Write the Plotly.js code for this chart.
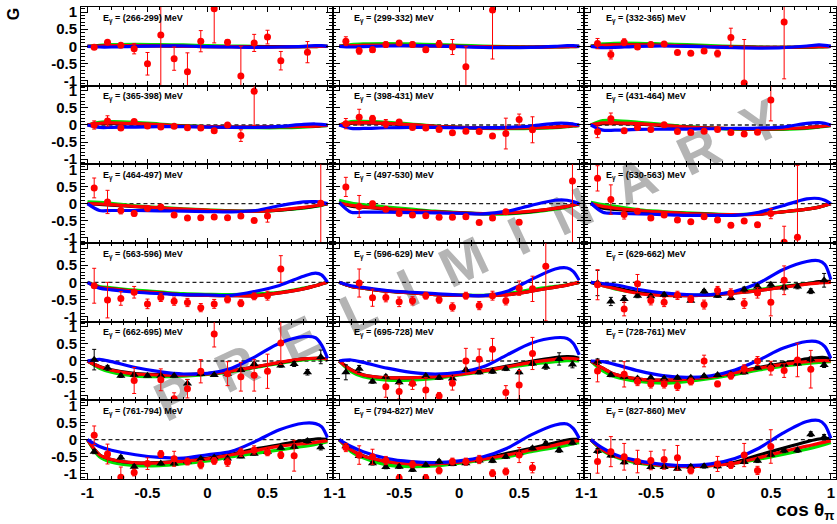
<!DOCTYPE html>
<html><head><meta charset="utf-8">
<script src="https://cdn.plot.ly/plotly-3.0.1.min.js"></script>
<style>html,body{margin:0;padding:0;background:#fff}</style>
</head><body><div id="chart" style="width:837px;height:524px"></div>
<script>
const energyBins = ["266-299","299-332","332-365","365-398","398-431","431-464","464-497","497-530","530-563","563-596","596-629","629-662","662-695","695-728","728-761","761-794","794-827","827-860"];
const cosBins = [-0.944,-0.833,-0.722,-0.611,-0.5,-0.389,-0.278,-0.167,-0.056,0.056,0.167,0.278,0.389,0.5,0.611,0.722,0.833,0.944];
const xTickVals = [-1,-0.5,0,0.5,1];
const xTickText = ["-1","-0.5","0","0.5","1"];
const yTickVals = [-1,-0.5,0,0.5,1];
const yTickText = ["-1","-0.5","0","0.5","1"];
const curveX = [-1,-0.9,-0.8,-0.6,-0.4,-0.2,0,0.2,0.4,0.6,0.8,0.9,0.95,1];

// red circles (measured G) and their errors, one row per energy bin
const redG = [
[-0.03,0.12,0.03,-0.07,-0.51,0.33,-0.36,-0.74,0.15,1.1,0.12,-0.87,0.1,0.27,-0.42,null,-0.17,null],
[0.15,-0.13,-0.1,0.05,0.1,0.05,-0.1,0.07,-0.02,-0.6,null,1.06,null,null,null,null,null,null],
[0.08,-0.24,0.12,-0.02,0.05,0.07,-0.18,-0.2,-0.14,-0.21,0.26,-1.07,null,null,0.71,null,null,null],
[0.0,0.12,-0.09,0.1,-0.03,-0.06,-0.04,-0.08,-0.09,-0.17,0.0,-0.31,0.99,null,null,null,null,null],
[0.04,0.23,0.18,0.04,0.09,-0.07,-0.09,-0.13,-0.23,-0.18,-0.19,-0.32,-0.25,0.16,-0.14,null,null,null],
[-0.2,0.18,-0.17,-0.07,-0.13,0.01,-0.19,-0.22,-0.18,-0.13,-0.22,-0.26,-0.21,0.73,null,null,null,null],
[0.46,0.05,-0.2,-0.29,-0.14,-0.1,-0.33,-0.42,-0.41,-0.39,-0.41,-0.36,-0.49,-0.36,null,null,null,0.01],
[0.49,-0.08,0.0,-0.16,-0.29,-0.33,-0.35,-0.4,-0.4,-0.38,-0.55,-0.42,-0.24,-0.54,null,null,null,0.66],
[0.74,0.12,-0.32,-0.22,-0.42,-0.33,-0.48,-0.53,-0.38,-0.48,-0.63,-0.51,-0.62,-0.29,-1.13,-0.98,null,null],
[-0.1,-0.52,-0.47,-0.29,-0.63,-0.44,-0.55,-0.59,-0.74,-0.63,-0.5,-0.61,-0.41,-0.39,0.39,null,null,null],
[null,-0.02,-0.45,-0.44,-0.57,-0.54,-0.39,-0.51,-0.72,-0.39,-0.68,-0.39,-0.54,-0.17,-0.19,0.47,null,null],
[-0.07,null,-0.78,-0.04,-0.53,-0.58,-0.38,-0.49,-0.65,-0.24,-0.31,-0.62,-0.31,-0.58,0.06,null,null,null],
[null,null,null,-0.57,null,-0.55,-1.1,-0.81,-0.3,0.79,-0.37,-0.46,-0.42,-0.3,0.53,null,null,null],
[null,null,null,-0.75,-0.89,-0.66,-0.85,-1.02,-0.65,0.0,0.05,0.34,-0.92,-0.7,0.22,null,null,null],
[-0.29,null,-0.39,-0.6,-0.67,-0.67,-0.74,-0.6,0.0,-0.67,-0.43,-0.23,0.0,-0.21,-0.28,0.03,-0.24,null],
[0.13,-0.42,-1.1,-0.96,-0.7,-0.42,-0.56,-0.64,-0.73,-0.62,-0.66,-0.37,-0.3,-0.37,-0.45,-0.47,null,null],
[-0.23,-0.45,-0.5,-0.61,-1.12,-0.72,-1.12,-0.9,-0.64,-0.64,-0.58,-0.98,-0.93,-0.45,-0.82,null,null,null],
[-0.64,-0.35,-0.5,-0.64,-0.61,-0.58,-0.53,-0.9,null,-0.71,-0.74,-0.45,-0.9,-0.2,null,null,null,null]
];
const redErr = [
[0.05,0.05,0.04,0.15,0.33,1.5,0.34,0.55,0.31,1.0,0.08,0.87,0.25,0.2,0.27,null,0.31,null],
[0.13,0.1,0.08,0.08,0.07,0.08,0.08,0.1,0.22,0.59,null,1.43,null,null,null,null,null,null],
[0.15,0.13,0.1,0.05,0.07,0.05,0.04,0.04,0.07,0.1,0.27,1.27,null,null,1.66,null,null,null],
[0.12,0.15,0.05,0.05,0.04,0.04,0.04,0.04,0.04,0.04,0.04,0.17,1.0,null,null,null,null,null],
[0.15,0.23,0.1,0.12,0.07,0.06,0.04,0.05,0.04,0.05,0.05,0.04,0.45,0.16,0.38,null,null,null],
[0.17,0.17,0.07,0.05,0.05,0.04,0.05,0.05,0.05,0.05,0.05,0.05,0.05,0.61,null,null,null,null],
[0.29,0.34,0.1,0.07,0.06,0.04,0.04,0.04,0.04,0.04,0.04,0.05,0.06,0.18,null,null,null,1.5],
[0.28,0.32,0.07,0.06,0.04,0.04,0.04,0.04,0.04,0.04,0.04,0.04,0.04,0.07,null,null,null,1.9],
[0.37,0.43,0.13,0.07,0.07,0.06,0.04,0.04,0.06,0.06,0.07,0.07,0.07,0.15,0.47,2.1,null,null],
[0.51,0.52,0.2,0.17,0.14,0.12,0.12,0.12,0.12,0.13,0.1,0.1,0.1,0.13,0.39,null,null,null],
[null,0.41,0.25,0.13,0.14,0.12,0.1,0.1,0.12,0.1,0.12,0.13,0.12,0.21,0.37,1.6,null,null],
[0.44,null,0.2,0.27,0.13,0.13,0.12,0.1,0.13,0.12,0.12,0.14,0.15,0.4,0.42,null,null,null],
[null,null,null,0.38,null,0.32,0.17,0.27,0.34,0.38,0.35,0.42,0.46,0.5,0.63,null,null,null],
[null,null,null,0.31,0.22,0.17,0.37,0.1,0.2,0.37,0.3,0.32,0.2,0.42,0.47,null,null,null],
[0.32,null,0.37,0.12,0.12,0.12,0.12,0.1,0.17,0.08,0.1,0.12,0.13,0.2,0.2,0.49,0.55,null],
[0.27,0.29,0.3,0.1,0.17,0.1,0.22,0.1,0.12,0.1,0.12,0.12,0.12,0.1,0.1,0.45,null,null],
[0.12,0.27,0.22,0.12,0.1,0.1,0.1,0.1,0.1,0.1,0.12,0.1,0.1,0.22,0.15,null,null,null],
[0.34,0.44,0.39,0.33,0.27,0.28,0.36,0.1,null,0.22,0.1,0.34,0.12,0.49,null,null,null,null]
];

// black triangles (second data set), only in the higher energy bins
const blackG = [null,null,null,null,null,null,null,null,null,null,null,
[-0.02,-0.56,-0.49,-0.39,-0.41,-0.36,-0.39,-0.54,-0.26,-0.39,-0.46,-0.21,-0.12,-0.07,-0.15,-0.12,-0.26,0.06],
[0.04,-0.2,-0.43,-0.4,-0.43,-0.43,-0.43,-0.66,-0.38,-0.41,-0.37,-0.26,-0.09,null,-0.13,-0.09,-0.33,0.12],
[-0.33,-0.23,-0.6,-0.46,-0.62,-0.65,-0.44,-0.49,-0.51,-0.26,-0.33,-0.31,-0.23,-0.33,-0.07,-0.17,0.06,-0.1],
[-0.02,-0.41,-0.46,-0.51,-0.49,-0.51,-0.49,-0.49,-0.44,-0.41,-0.39,-0.33,-0.19,-0.12,-0.1,-0.07,0.05,-0.12],
[-0.35,null,-0.52,-0.79,null,-0.7,-0.7,-0.64,-0.56,-0.52,-0.55,-0.49,-0.41,-0.35,-0.24,-0.21,-0.04,-0.22],
[-0.19,-0.48,-0.69,-0.8,-0.79,-0.88,-0.74,-0.64,-0.71,-0.69,-0.61,-0.62,-0.5,-0.4,-0.25,-0.11,-0.31,-0.09],
[-0.33,-0.46,-0.66,-0.67,-0.8,-0.8,-0.85,-0.79,-0.78,-0.78,-0.74,-0.65,-0.62,-0.44,-0.32,-0.31,0.16,0.07]
];
const blackErr = [null,null,null,null,null,null,null,null,null,null,null,
[0.37,0.12,0.1,0.06,0.05,0.05,0.05,0.05,0.05,0.05,0.05,0.07,0.06,0.07,0.07,0.07,0.07,0.2],
[0.3,0.07,0.05,0.05,0.04,0.04,0.04,0.12,0.05,0.04,0.04,0.05,0.05,null,0.05,0.07,0.08,0.2],
[0.22,0.1,0.05,0.05,0.05,0.05,0.05,0.05,0.05,0.05,0.05,0.05,0.05,0.05,0.06,0.07,0.18,0.1],
[0.08,0.05,0.05,0.04,0.04,0.04,0.04,0.04,0.04,0.04,0.04,0.05,0.05,0.05,0.05,0.06,0.07,0.07],
[0.06,null,0.05,0.05,null,0.04,0.04,0.04,0.04,0.04,0.04,0.04,0.04,0.05,0.05,0.05,0.06,0.08],
[0.05,0.05,0.05,0.05,0.05,0.05,0.05,0.05,0.05,0.05,0.05,0.05,0.05,0.05,0.05,0.06,0.06,0.06],
[0.07,0.05,0.05,0.05,0.05,0.05,0.05,0.05,0.05,0.05,0.05,0.05,0.05,0.05,0.06,0.06,0.07,0.08]
];

// model curves sampled at curveX
const curveGreen = [
[0,0.03,0.05,0.06,0.05,0.04,0.02,0.01,0,-0.01,-0.01,-0.01,0,0],
[0,0.05,0.07,0.08,0.07,0.05,0.03,0.01,-0.01,-0.02,-0.02,-0.01,-0.01,0],
[0,0.07,0.09,0.09,0.07,0.05,0.02,0,-0.02,-0.03,-0.03,-0.02,-0.01,0],
[0,0.08,0.1,0.08,0.03,-0.02,-0.05,-0.07,-0.08,-0.08,-0.06,-0.04,-0.03,-0.02],
[0,0.1,0.11,0.08,0.03,-0.03,-0.07,-0.1,-0.11,-0.1,-0.08,-0.05,-0.03,-0.02],
[0,0.13,0.13,0.08,0.02,-0.05,-0.09,-0.12,-0.13,-0.13,-0.1,-0.06,-0.04,-0.02],
[0.05,0.04,0.01,-0.06,-0.11,-0.15,-0.18,-0.21,-0.22,-0.19,-0.13,-0.08,-0.05,0],
[0.1,0.02,-0.03,-0.1,-0.16,-0.22,-0.26,-0.3,-0.3,-0.25,-0.16,-0.1,-0.05,0],
[0.04,-0.03,-0.08,-0.18,-0.23,-0.27,-0.3,-0.32,-0.29,-0.24,-0.16,-0.1,-0.05,0],
[0,-0.12,-0.16,-0.23,-0.28,-0.33,-0.35,-0.36,-0.34,-0.29,-0.17,-0.1,-0.05,0],
[0,-0.12,-0.17,-0.26,-0.31,-0.36,-0.37,-0.38,-0.33,-0.21,-0.12,-0.07,-0.04,0],
[0,-0.1,-0.19,-0.31,-0.36,-0.38,-0.36,-0.29,-0.21,-0.12,-0.04,0,0.02,0.03],
[0,-0.21,-0.33,-0.44,-0.46,-0.44,-0.39,-0.31,-0.19,-0.07,0.03,0.06,0.06,0.05],
[0,-0.31,-0.46,-0.56,-0.56,-0.51,-0.41,-0.31,-0.19,-0.09,-0.02,0.01,0.01,0],
[0,-0.29,-0.46,-0.6,-0.65,-0.6,-0.51,-0.39,-0.26,-0.15,-0.07,-0.04,-0.03,-0.02],
[0,-0.5,-0.66,-0.76,-0.76,-0.7,-0.62,-0.5,-0.4,-0.3,-0.2,-0.14,-0.1,-0.06],
[0,-0.35,-0.53,-0.74,-0.79,-0.77,-0.69,-0.59,-0.5,-0.35,-0.23,-0.16,-0.12,-0.09],
[0,-0.33,-0.5,-0.69,-0.77,-0.79,-0.76,-0.69,-0.57,-0.43,-0.28,-0.19,-0.14,-0.08]
];
const curveBlack = [
[0,0.01,0.02,0.02,0.01,0,-0.01,-0.01,-0.01,-0.01,-0.01,0,0,0],
[0,0.02,0.03,0.03,0.02,0.01,0,-0.01,-0.02,-0.02,-0.01,-0.01,0,0],
[0,0.03,0.04,0.04,0.03,0.01,-0.01,-0.02,-0.03,-0.03,-0.02,-0.01,-0.01,0],
[0,0.04,0.05,0.03,0,-0.03,-0.05,-0.06,-0.06,-0.05,-0.04,-0.03,-0.02,-0.01],
[0,0.05,0.06,0.04,0,-0.04,-0.07,-0.09,-0.09,-0.08,-0.06,-0.04,-0.02,-0.01],
[0,0.04,0.05,0.03,-0.02,-0.06,-0.09,-0.11,-0.12,-0.11,-0.08,-0.05,-0.03,-0.01],
[0,-0.02,-0.04,-0.09,-0.13,-0.17,-0.2,-0.22,-0.22,-0.19,-0.12,-0.07,-0.04,0],
[0.02,-0.07,-0.1,-0.16,-0.2,-0.24,-0.27,-0.29,-0.28,-0.23,-0.14,-0.08,-0.04,0],
[0,-0.13,-0.17,-0.22,-0.26,-0.29,-0.31,-0.32,-0.31,-0.24,-0.16,-0.1,-0.05,0],
[0,-0.15,-0.19,-0.26,-0.31,-0.36,-0.38,-0.39,-0.39,-0.31,-0.19,-0.1,-0.05,0],
[0,-0.12,-0.17,-0.26,-0.31,-0.36,-0.38,-0.39,-0.36,-0.26,-0.14,-0.08,-0.04,0],
[0,-0.07,-0.15,-0.3,-0.37,-0.39,-0.37,-0.31,-0.24,-0.14,-0.04,0.02,0.03,0.03],
[0,-0.16,-0.26,-0.37,-0.4,-0.4,-0.37,-0.29,-0.17,-0.05,0.06,0.08,0.08,0.06],
[0,-0.25,-0.4,-0.49,-0.49,-0.46,-0.38,-0.28,-0.15,-0.01,0.1,0.13,0.12,0.08],
[0,-0.21,-0.39,-0.53,-0.56,-0.53,-0.46,-0.33,-0.19,-0.07,0.06,0.1,0.1,0.06],
[0,-0.44,-0.58,-0.68,-0.67,-0.62,-0.54,-0.42,-0.27,-0.15,-0.03,0.02,0.02,0.01],
[0,-0.3,-0.47,-0.64,-0.7,-0.7,-0.65,-0.55,-0.4,-0.25,-0.09,-0.01,0.01,0.02],
[0,-0.3,-0.47,-0.65,-0.75,-0.78,-0.75,-0.66,-0.45,-0.25,-0.06,0.02,0.03,0.04]
];
const curveRed = [
[0,0.01,0.02,0.02,0.01,0,-0.01,-0.01,-0.02,-0.02,-0.01,-0.01,0,0],
[0,0.02,0.03,0.03,0.02,0.01,0,-0.01,-0.02,-0.02,-0.02,-0.01,-0.01,0],
[0,0.03,0.04,0.04,0.03,0.01,-0.01,-0.02,-0.03,-0.03,-0.02,-0.01,-0.01,0],
[0,0.05,0.06,0.04,0.01,-0.03,-0.05,-0.06,-0.06,-0.05,-0.04,-0.03,-0.02,-0.01],
[0,0.06,0.07,0.05,0.01,-0.04,-0.07,-0.09,-0.09,-0.08,-0.06,-0.04,-0.02,-0.01],
[0,0.06,0.06,0.04,-0.01,-0.06,-0.09,-0.11,-0.12,-0.11,-0.08,-0.05,-0.03,-0.01],
[0,-0.01,-0.03,-0.08,-0.12,-0.16,-0.19,-0.22,-0.22,-0.18,-0.11,-0.06,-0.03,0],
[0.02,-0.05,-0.09,-0.15,-0.2,-0.24,-0.27,-0.29,-0.27,-0.22,-0.14,-0.08,-0.04,0],
[0,-0.08,-0.13,-0.2,-0.25,-0.29,-0.31,-0.32,-0.31,-0.24,-0.16,-0.1,-0.05,0],
[0,-0.15,-0.19,-0.26,-0.31,-0.36,-0.38,-0.39,-0.39,-0.31,-0.19,-0.1,-0.05,0],
[0,-0.12,-0.17,-0.26,-0.31,-0.36,-0.38,-0.39,-0.36,-0.26,-0.14,-0.08,-0.04,0],
[0,-0.1,-0.18,-0.33,-0.38,-0.39,-0.37,-0.31,-0.24,-0.15,-0.05,-0.02,-0.01,0],
[0,-0.17,-0.27,-0.38,-0.41,-0.41,-0.38,-0.29,-0.17,-0.04,0.06,0.08,0.08,0.05],
[0,-0.26,-0.41,-0.49,-0.49,-0.46,-0.39,-0.29,-0.17,-0.04,0.05,0.08,0.07,0.04],
[0,-0.21,-0.39,-0.53,-0.56,-0.53,-0.46,-0.34,-0.21,-0.1,-0.02,0.01,0.01,0],
[0,-0.44,-0.58,-0.68,-0.68,-0.63,-0.56,-0.44,-0.32,-0.19,-0.12,-0.08,-0.05,-0.03],
[0,-0.3,-0.48,-0.64,-0.71,-0.71,-0.66,-0.57,-0.45,-0.3,-0.16,-0.08,-0.05,-0.03],
[0,-0.3,-0.48,-0.66,-0.76,-0.79,-0.76,-0.69,-0.53,-0.35,-0.19,-0.11,-0.07,-0.04]
];
const curveBlue = [
[0,-0.02,-0.02,0,0.01,0.01,-0.01,-0.02,-0.03,-0.02,0,0.02,0.02,0],
[0,-0.02,-0.01,0.01,0.02,0.01,-0.01,-0.03,-0.04,-0.03,0,0.02,0.02,0],
[0,-0.04,-0.03,0,0.01,0,-0.02,-0.04,-0.05,-0.04,0.01,0.04,0.03,0],
[0,-0.07,-0.07,-0.06,-0.05,-0.05,-0.06,-0.07,-0.07,-0.04,0.02,0.03,0.02,0],
[0,-0.1,-0.1,-0.08,-0.07,-0.07,-0.08,-0.08,-0.07,-0.03,0.05,0.05,0.03,0],
[0,-0.15,-0.15,-0.13,-0.12,-0.12,-0.11,-0.1,-0.09,-0.06,0.05,0.07,0.05,0],
[0,-0.2,-0.2,-0.2,-0.21,-0.22,-0.23,-0.24,-0.2,-0.06,0.05,0.06,0.04,0],
[0.04,-0.25,-0.25,-0.25,-0.26,-0.27,-0.28,-0.3,-0.22,-0.05,0.1,0.1,0.06,0],
[0.02,-0.25,-0.28,-0.3,-0.32,-0.34,-0.34,-0.34,-0.25,-0.06,0.14,0.15,0.1,0],
[0,-0.17,-0.22,-0.29,-0.33,-0.36,-0.37,-0.38,-0.26,-0.09,0.18,0.27,0.22,0],
[0,-0.1,-0.15,-0.24,-0.29,-0.33,-0.37,-0.39,-0.26,0.08,0.39,0.42,0.32,0.06],
[0,-0.04,-0.07,-0.21,-0.31,-0.36,-0.36,-0.26,-0.02,0.37,0.61,0.63,0.52,0.08],
[0,0.05,-0.02,-0.19,-0.31,-0.38,-0.36,-0.21,0.13,0.52,0.71,0.68,0.47,0.08],
[0,0.03,-0.04,-0.21,-0.33,-0.38,-0.33,-0.17,0.18,0.52,0.68,0.66,0.52,0.18],
[0,-0.02,-0.1,-0.29,-0.43,-0.48,-0.43,-0.26,0.03,0.37,0.57,0.55,0.42,0.08],
[0,-0.2,-0.31,-0.44,-0.52,-0.54,-0.44,-0.34,-0.05,0.29,0.48,0.47,0.38,0.06],
[0,-0.2,-0.35,-0.55,-0.64,-0.67,-0.62,-0.5,-0.25,0.14,0.43,0.46,0.33,0.04],
[0,-0.25,-0.43,-0.62,-0.72,-0.76,-0.71,-0.55,-0.25,0.19,0.53,0.56,0.43,0.04]
];

const FONT = 'Liberation Sans, Arial, Helvetica, sans-serif';
const minorX = [], minorY = [];
for (let k = -10; k <= 10; k++) { if (k % 5 !== 0) minorX.push(k / 10); }
for (let k = -11; k <= 11; k++) { if (k % 5 !== 0) minorY.push(k / 10); }

const traces = [], annotations = [], shapes = [];
const layout = {
  width: 837, height: 524,
  margin: {l: 81, r: 1, t: 7, b: 45, pad: 0},
  paper_bgcolor: '#ffffff', plot_bgcolor: 'rgba(0,0,0,0)',
  showlegend: false, hovermode: false
};

for (let i = 0; i < 18; i++) {
  const r = Math.floor(i / 3), c = i % 3;
  const n = i === 0 ? '' : String(i + 1);
  const xa = 'x' + n, ya = 'y' + n;
  layout['xaxis' + n] = {
    domain: [c / 3, (c + 1) / 3], range: [-1.054, 1.043], anchor: ya,
    showgrid: false, zeroline: false, showline: true, linecolor: '#000', linewidth: 1, mirror: 'ticks',
    ticks: 'inside', ticklen: 5, tickwidth: 1, tickcolor: '#000',
    tickmode: 'array', tickvals: xTickVals, ticktext: xTickText,
    minor: {tickmode: 'array', tickvals: minorX, ticks: 'inside', ticklen: 3, tickwidth: 1, tickcolor: '#000', showgrid: false},
    showticklabels: r === 5,
    tickfont: {family: FONT, size: 15, color: '#000', weight: 'bold'}
  };
  layout['yaxis' + n] = {
    domain: [1 - (r + 1) / 6, 1 - r / 6], range: [-1.15, 1.15], anchor: xa,
    showgrid: false, zeroline: false, showline: true, linecolor: '#000', linewidth: 1, mirror: 'ticks',
    ticks: 'inside', ticklen: 7, tickwidth: 1, tickcolor: '#000',
    tickmode: 'array', tickvals: yTickVals, ticktext: yTickText,
    minor: {tickmode: 'array', tickvals: minorY, ticks: 'inside', ticklen: 3.5, tickwidth: 1, tickcolor: '#000', showgrid: false},
    showticklabels: c === 0,
    tickfont: {family: FONT, size: 15, color: '#000', weight: 'bold'}
  };

  shapes.push({type: 'line', xref: xa, yref: ya, x0: -1, x1: 1, y0: 0, y1: 0, layer: 'below',
    line: {color: '#222', width: 1.3, dash: '4px,3px'}});

  const curves = [[curveGreen, '#00e000'], [curveBlack, '#000000'], [curveRed, '#ff0000'], [curveBlue, '#0000ff']];
  curves.forEach(([arr, col]) => {
    traces.push({type: 'scatter', mode: 'lines', x: curveX, y: arr[i], xaxis: xa, yaxis: ya,
      line: {color: col, width: 3.2, shape: 'spline', smoothing: 0.9}, hoverinfo: 'skip'});
  });

  if (blackG[i]) {
    traces.push({type: 'scatter', mode: 'markers', x: cosBins, y: blackG[i], xaxis: xa, yaxis: ya,
      marker: {symbol: 'triangle-up', size: 8, color: '#000'},
      error_y: {type: 'data', array: blackErr[i], visible: true, color: '#000', thickness: 1, width: 2}});
  }
  traces.push({type: 'scatter', mode: 'markers', x: cosBins, y: redG[i], xaxis: xa, yaxis: ya,
    marker: {symbol: 'circle', size: 7, color: '#ff0000'},
    error_y: {type: 'data', array: redErr[i], visible: true, color: '#ff0000', thickness: 1, width: 2}});

  annotations.push({xref: xa + ' domain', yref: ya + ' domain', x: 0.078, y: 0.955,
    xanchor: 'left', yanchor: 'top', showarrow: false,
    text: '<b>E<sub>γ</sub> = (' + energyBins[i] + ') MeV</b>',
    font: {family: FONT, size: 9, color: '#000'}});
}

annotations.push({xref: 'paper', yref: 'paper', x: -0.09, y: 0.985, xanchor: 'center', yanchor: 'middle',
  showarrow: false, textangle: -90, text: '<b>G</b>', font: {family: FONT, size: 16, color: '#000'}});
annotations.push({xref: 'paper', yref: 'paper', x: 1.0, y: -0.098, xanchor: 'right', yanchor: 'bottom',
  showarrow: false, text: '<b>cos θ<sub>π</sub></b>', font: {family: FONT, size: 19, color: '#000'}});

const sp = '\u00A0\u00A0';
shapes.push({type: 'line', xref: 'paper', yref: 'paper', layer: 'below',
  x0: (212 - 81) / 755, y0: (479 - 412) / 472, x1: (748 - 81) / 755, y1: (479 - 160) / 472,
  line: {color: 'rgba(0,0,0,0)', width: 1},
  label: {text: ['P','R','E','L','I','M','I','N','A','R','Y'].join(sp), textposition: 'middle',
    font: {family: FONT, size: 55, color: '#b4b4b4', weight: 'bold'}}});

layout.annotations = annotations;
layout.shapes = shapes;
Plotly.newPlot('chart', traces, layout, {staticPlot: true, displayModeBar: false});
</script>
</body></html>
